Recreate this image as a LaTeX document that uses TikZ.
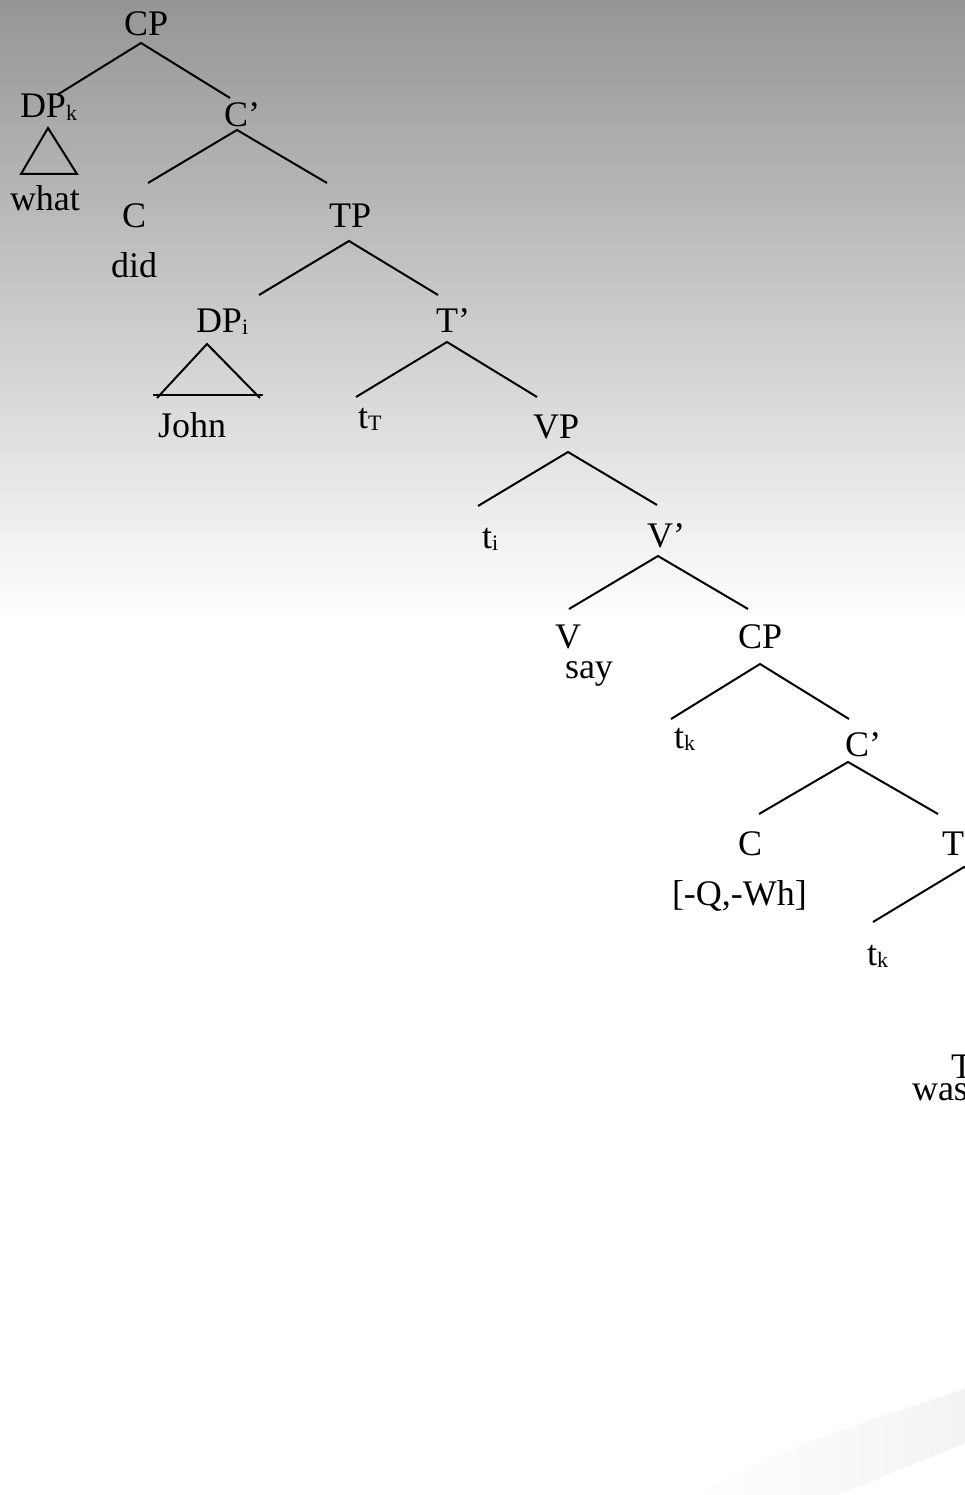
\documentclass[tikz,border=0pt]{standalone}
\usepackage{fontspec}
\setmainfont{Liberation Serif}
\usetikzlibrary{calc}
\newcommand{\lsub}[1]{{\fontsize{22pt}{22pt}\selectfont\raisebox{-2.5pt}{#1}}}
\definecolor{bgtop}{RGB}{149,149,149}
\definecolor{swoosh}{RGB}{243,243,243}
\tikzset{
  lbl/.style={anchor=base west, inner sep=0pt, outer sep=0pt, font=\fontsize{36pt}{36pt}\selectfont, text=black},
  branch/.style={draw=black, line width=2pt, line join=miter}
}
\begin{document}
\begin{tikzpicture}[x=1pt,y=-1pt]
\useasboundingbox (0,0) rectangle (965,1495);
\begin{scope}
\clip (0,0) rectangle (965,1495);
\fill[white] (0,0) rectangle (965,1495);
\shade[top color=bgtop, bottom color=white] (0,0) rectangle (965,620);
\shade[left color=white, right color=swoosh]
  (690,1495) .. controls (750,1466) and (815,1438) .. (877,1418) -- (965,1389)
  -- (965,1443) .. controls (920,1461) and (880,1478) .. (838,1495) -- cycle;

% labels
\node[lbl] (cp1) at (124,36) {CP};
\node[lbl] (dpk) at (20,118) {DP\lsub{k}};
\node[lbl] (what) at (10,211) {what};
\node[lbl] (c1p) at (224,127) {C’};
\node[lbl] (c1) at (122,228) {C};
\node[lbl] (did) at (111,278) {did};
\node[lbl] (tp1) at (329,228) {TP};
\node[lbl] (dpi) at (196,332) {DP\lsub{i}};
\node[lbl] (john) at (158,437) {John};
\node[lbl] (t1p) at (436,332) {T’};
\node[lbl] (tT) at (358,428) {t\lsub{T}};
\node[lbl] (vp) at (533,438) {VP};
\node[lbl] (ti) at (482,548) {t\lsub{i}};
\node[lbl] (vpr) at (647,547) {V’};
\node[lbl] (v) at (555,648) {V};
\node[lbl] (say) at (565,678) {say};
\node[lbl] (cp2) at (738,648) {CP};
\node[lbl] (tk1) at (674,748) {t\lsub{k}};
\node[lbl] (c2p) at (845,756) {C’};
\node[lbl] (c2) at (738,855) {C};
\node[lbl] (feat) at (672,905) {[-Q,-Wh]};
\node[lbl] (tp2) at (942,855) {TP};
\node[lbl] (tk2) at (867,965) {t\lsub{k}};
\node[lbl] (t3) at (951,1078) {T};
\node[lbl] (was) at (912,1100) {was};

% branch points
\coordinate (cp1-b) at (141,43);  \coordinate (dpk-t) at (57,95);   \coordinate (c1p-t) at (230,98);
\coordinate (c1p-b) at (237,130); \coordinate (c1-t) at (148,183);  \coordinate (tp1-t) at (327,183);
\coordinate (tp1-b) at (349,241); \coordinate (dpi-t) at (259,295); \coordinate (t1p-t) at (438,295);
\coordinate (t1p-b) at (447,342); \coordinate (tT-t) at (356,397);  \coordinate (vp-t) at (537,397);
\coordinate (vp-b) at (568,452);  \coordinate (ti-t) at (478,506);  \coordinate (vpr-t) at (657,505);
\coordinate (vpr-b) at (658,556); \coordinate (v-t) at (569,609);   \coordinate (cp2-t) at (748,609);
\coordinate (cp2-b) at (760,664); \coordinate (tk1-t) at (671,719); \coordinate (c2p-t) at (849,719);
\coordinate (c2p-b) at (848,762); \coordinate (c2-t) at (759,814);  \coordinate (tp2-t) at (938,814);
\coordinate (tp2-b) at (964,867); \coordinate (tk2-t) at (873,922); \coordinate (tpr2-t) at (1053,922);

\draw[branch] (dpk-t) -- (cp1-b) -- (c1p-t);
\draw[branch] (c1-t) -- (c1p-b) -- (tp1-t);
\draw[branch] (dpi-t) -- (tp1-b) -- (t1p-t);
\draw[branch] (tT-t) -- (t1p-b) -- (vp-t);
\draw[branch] (ti-t) -- (vp-b) -- (vpr-t);
\draw[branch] (v-t) -- (vpr-b) -- (cp2-t);
\draw[branch] (tk1-t) -- (cp2-b) -- (c2p-t);
\draw[branch] (c2-t) -- (c2p-b) -- (tp2-t);
\draw[branch] (tk2-t) -- (tp2-b) -- (tpr2-t);

% triangles
\coordinate (tri1-a) at (48,128); \coordinate (tri1-l) at (21,174); \coordinate (tri1-r) at (77,174);
\draw[branch] (tri1-a) -- (tri1-l) -- (tri1-r) -- cycle;
\coordinate (tri2-a) at (207,344); \coordinate (tri2-l) at (157,398); \coordinate (tri2-r) at (260,398);
\coordinate (tri2-bl) at (153,395); \coordinate (tri2-br) at (263,395);
\draw[branch] (tri2-l) -- (tri2-a) -- (tri2-r);
\draw[branch] (tri2-bl) -- (tri2-br);
\end{scope}
\end{tikzpicture}
\end{document}
